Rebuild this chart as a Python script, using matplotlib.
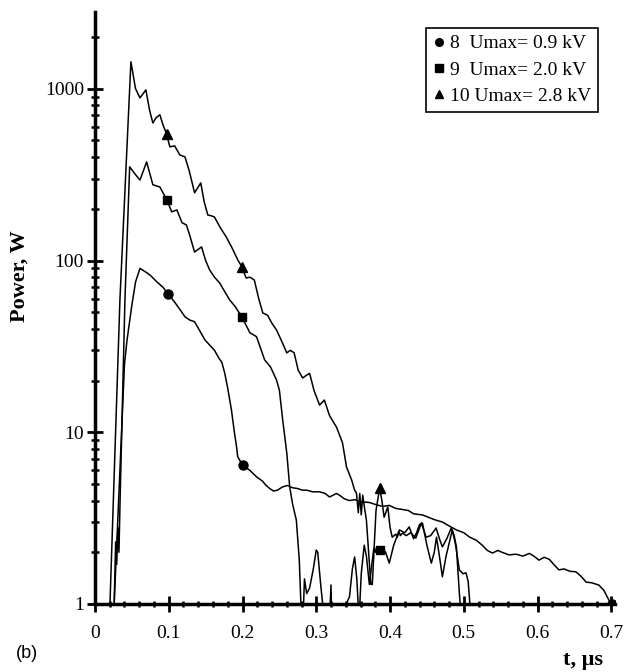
import numpy as np
import matplotlib.pyplot as plt
from matplotlib.lines import Line2D
from matplotlib.ticker import FixedLocator, LogLocator, NullFormatter

plt.rcParams['font.family'] = ['Liberation Serif', 'DejaVu Serif']

# curve 8, Umax = 0.9 kV
t8 = [0.026, 0.033, 0.040, 0.0433, 0.050, 0.055, 0.061, 0.070, 0.075, 0.084,
      0.092, 0.099, 0.107, 0.115, 0.122, 0.1285, 0.135, 0.142, 0.149, 0.156,
      0.162, 0.168, 0.172, 0.176, 0.180, 0.185, 0.189, 0.192, 0.1935, 0.200,
      0.210, 0.219, 0.227, 0.232, 0.237, 0.242, 0.2475, 0.254, 0.261, 0.268,
      0.275, 0.281, 0.287, 0.295, 0.3045, 0.312, 0.318, 0.3275, 0.3315, 0.338,
      0.345, 0.352, 0.3625, 0.372, 0.380, 0.390, 0.399, 0.408, 0.417, 0.425,
      0.432, 0.444, 0.452, 0.460, 0.471, 0.480, 0.490, 0.500, 0.508, 0.517,
      0.525, 0.532, 0.539, 0.546, 0.552, 0.5615, 0.571, 0.580, 0.589, 0.595,
      0.602, 0.609, 0.616, 0.622, 0.629, 0.636, 0.644, 0.652, 0.659, 0.666,
      0.673, 0.683, 0.690, 0.697, 0.701]
p8 = [1, 5, 25, 34, 55, 75, 90, 85, 82, 75,
      70, 64, 58, 52, 47, 45, 44, 39, 34.5, 32,
      30, 27, 25.5, 22, 18, 13.5, 10, 8.2, 7.2, 6.45,
      6.0, 5.5, 5.2, 4.9, 4.7, 4.55, 4.6, 4.8, 4.9, 4.75,
      4.7, 4.6, 4.6, 4.5, 4.5, 4.4, 4.2, 4.4, 4.3, 4.1,
      4.0, 4.05, 3.93, 3.9, 3.8, 3.7, 3.75, 3.6, 3.55, 3.5,
      3.35, 3.3, 3.2, 3.1, 3.0, 2.85, 2.7, 2.6, 2.45, 2.35,
      2.2, 2.05, 1.98, 2.05, 2.0, 1.93, 1.95, 1.9, 1.97, 1.9,
      1.8, 1.87, 1.82, 1.7, 1.58, 1.6, 1.55, 1.54, 1.45, 1.34,
      1.33, 1.29, 1.2, 1.05, 1.0]

# curve 9, Umax = 2.0 kV
t9 = [0.026, 0.028, 0.0295, 0.031, 0.0325, 0.034, 0.0406, 0.047, 0.054, 0.061,
      0.070, 0.0785, 0.088, 0.0975, 0.104, 0.111, 0.118, 0.124, 0.1285, 0.135,
      0.1445, 0.150, 0.1555, 0.162, 0.169, 0.1825, 0.190, 0.199, 0.210, 0.219,
      0.230, 0.238, 0.246, 0.250, 0.2545, 0.260, 0.264, 0.268, 0.273, 0.277,
      0.280, 0.282, 0.284, 0.287, 0.291, 0.296, 0.300, 0.302, 0.306, 0.311,
      0.318, 0.320, 0.321, 0.330, 0.345, 0.349, 0.352, 0.355, 0.358, 0.361,
      0.365, 0.368, 0.372, 0.378, 0.380, 0.382, 0.384, 0.386, 0.388, 0.390,
      0.394, 0.399, 0.405, 0.4127, 0.420, 0.426, 0.432, 0.436, 0.440, 0.444,
      0.450, 0.456, 0.460, 0.463, 0.467, 0.471, 0.476, 0.4845, 0.489, 0.494,
      0.499, 0.503, 0.506, 0.510]
p9 = [1, 2.3, 1.7, 2.8, 2.0, 4, 59, 351, 320, 294,
      375, 276, 268, 225, 192, 197, 166, 161, 140, 112,
      120, 100, 88, 80, 74, 59, 54, 47, 38, 36,
      26.4, 24, 20.2, 17.6, 11.8, 7.6, 4.8, 3.8, 3.08, 1.8,
      0.8, 0.8, 1.4, 1.15, 1.24, 1.6, 2.06, 2.0, 1.3, 0.8,
      0.8, 1.29, 0.8, 0.8, 1.1, 1.6, 1.88, 1.4, 0.8, 1.5,
      2.2, 1.9, 1.3, 2.1, 2.0, 2.15, 1.95, 2.1, 1.95, 2.1,
      2.0, 1.73, 2.2, 2.7, 2.6, 2.81, 2.4, 2.6, 2.9, 2.96,
      2.2, 1.73, 2.0, 2.45, 1.9, 1.44, 1.9, 2.7, 2.2, 1.58,
      1.5, 1.52, 1.35, 0.8]

# curve 10, Umax = 2.8 kV
t10 = [0.0203, 0.0338, 0.0487, 0.055, 0.061, 0.069, 0.074, 0.0785, 0.083, 0.088,
       0.092, 0.097, 0.1015, 0.108, 0.115, 0.122, 0.128, 0.135, 0.1434, 0.148,
       0.153, 0.158, 0.162, 0.170, 0.178, 0.186, 0.1935, 0.199, 0.205, 0.210,
       0.216, 0.222, 0.2275, 0.234, 0.240, 0.246, 0.253, 0.260, 0.265, 0.270,
       0.2755, 0.2815, 0.287, 0.291, 0.297, 0.3045, 0.311, 0.318, 0.3275, 0.3356,
       0.341, 0.348, 0.352, 0.3545, 0.357, 0.359, 0.361, 0.363, 0.366, 0.368,
       0.371, 0.374, 0.376, 0.381, 0.386, 0.389, 0.392, 0.397, 0.400, 0.403,
       0.408, 0.410, 0.412, 0.414, 0.417, 0.422, 0.428, 0.435, 0.4425, 0.449,
       0.455, 0.4625, 0.467, 0.471, 0.477, 0.483, 0.487, 0.490, 0.494, 0.497]
p10 = [1, 59, 1435, 1000, 885, 985, 750, 632, 680, 705,
       620, 546, 459, 465, 412, 401, 330, 248, 283, 220,
       184, 182, 179, 155, 137, 118, 101, 92, 79, 80,
       77, 60, 49.5, 48, 43, 39.5, 34, 29, 30, 29,
       23, 20.7, 21.5, 22, 17.5, 14.4, 15.4, 12.5, 10.7, 8.67,
       6.28, 5.27, 4.6, 4.43, 3.4, 4.4, 3.3, 4.3, 3.5, 3.08,
       2.0, 1.3, 1.3, 3.5, 4.74, 4.0, 3.2, 3.67, 2.8, 2.45,
       2.55, 2.45, 2.65, 2.5, 2.59, 2.5, 2.6, 2.42, 2.96, 2.45,
       2.5, 2.77, 2.4, 2.15, 2.4, 2.77, 2.5, 2.15, 1.16, 0.8]

# marker positions on the curves
mk8_t = [0.099, 0.200, 0.701]
mk8_p = [64, 6.45, 1.0]
mk9_t = [0.0975, 0.199, 0.386]
mk9_p = [225, 47, 2.06]
mk10_t = [0.097, 0.199, 0.386]
mk10_p = [546, 92, 4.74]

labels = ['8  Umax= 0.9 kV', '9  Umax= 2.0 kV', '10 Umax= 2.8 kV']
xticks = [0, 0.1, 0.2, 0.3, 0.4, 0.5, 0.6, 0.7]
xtick_labels = ['0', '0.1', '0.2', '0.3', '0.4', '0.5', '0.6', '0.7']
yticks = [1, 10, 100, 1000]
ytick_labels = ['1', '10', '100', '1000']

fig = plt.figure(figsize=(6.27, 6.72), dpi=100)
ax = fig.add_axes([0.1515, 0.1012, 0.8293, 0.881])

for t, p in [(t8, p8), (t9, p9), (t10, p10)]:
    ax.plot(t, p, color='black', lw=1.1)

ax.plot(mk8_t, mk8_p, 'o', color='black', ms=6.5)
ax.plot(mk9_t, mk9_p, 's', color='black', ms=6)
ax.plot(mk10_t, mk10_p, '^', color='black', ms=6.5)

ax.set_yscale('log')
ax.set_xlim(0, 0.705)
ax.set_ylim(1, 2800)

ax.spines['top'].set_visible(False)
ax.spines['right'].set_visible(False)
ax.spines['left'].set_linewidth(2.5)
ax.spines['bottom'].set_linewidth(2.5)

ax.set_xticks(xticks)
ax.set_xticklabels(xtick_labels)
ax.xaxis.set_minor_locator(FixedLocator(np.arange(0.02, 0.705, 0.02)))
ax.set_yticks(yticks)
ax.set_yticklabels(ytick_labels)
ax.yaxis.set_minor_locator(LogLocator(base=10, subs=np.arange(2, 10)))
ax.yaxis.set_minor_formatter(NullFormatter())

ax.tick_params(axis='x', which='major', direction='inout', length=12, width=2,
               labelsize=14, pad=9)
ax.tick_params(axis='x', which='minor', direction='inout', length=5, width=1.8)
ax.tick_params(axis='y', which='major', direction='inout', length=12, width=2,
               labelsize=14, pad=2)
ax.tick_params(axis='y', which='minor', direction='inout', length=6, width=1.8)

handles = [Line2D([], [], ls='none', marker='o', color='black', ms=5.5),
           Line2D([], [], ls='none', marker='s', color='black', ms=5.5),
           Line2D([], [], ls='none', marker='^', color='black', ms=5.5)]
leg = ax.legend(handles, labels, loc='upper right', bbox_to_anchor=(0.967, 0.973),
                borderaxespad=0, fontsize=14, fancybox=False, framealpha=1,
                edgecolor='black', handlelength=0.6, handletextpad=0.25,
                labelspacing=0.45, borderpad=0.35, markerfirst=True)
leg.get_frame().set_linewidth(1.2)

fig.text(0.032, 0.589, 'Power, W', rotation=90, ha='center', va='center',
         fontsize=16, fontweight='bold')
fig.text(0.930, 0.018, 't, μs', ha='center', va='center',
         fontsize=16, fontweight='bold')
fig.text(0.043, 0.028, '(b)', ha='center', va='center', fontsize=13,
         family=['Liberation Sans', 'DejaVu Sans'])

fig.savefig('out.png', dpi=100)
